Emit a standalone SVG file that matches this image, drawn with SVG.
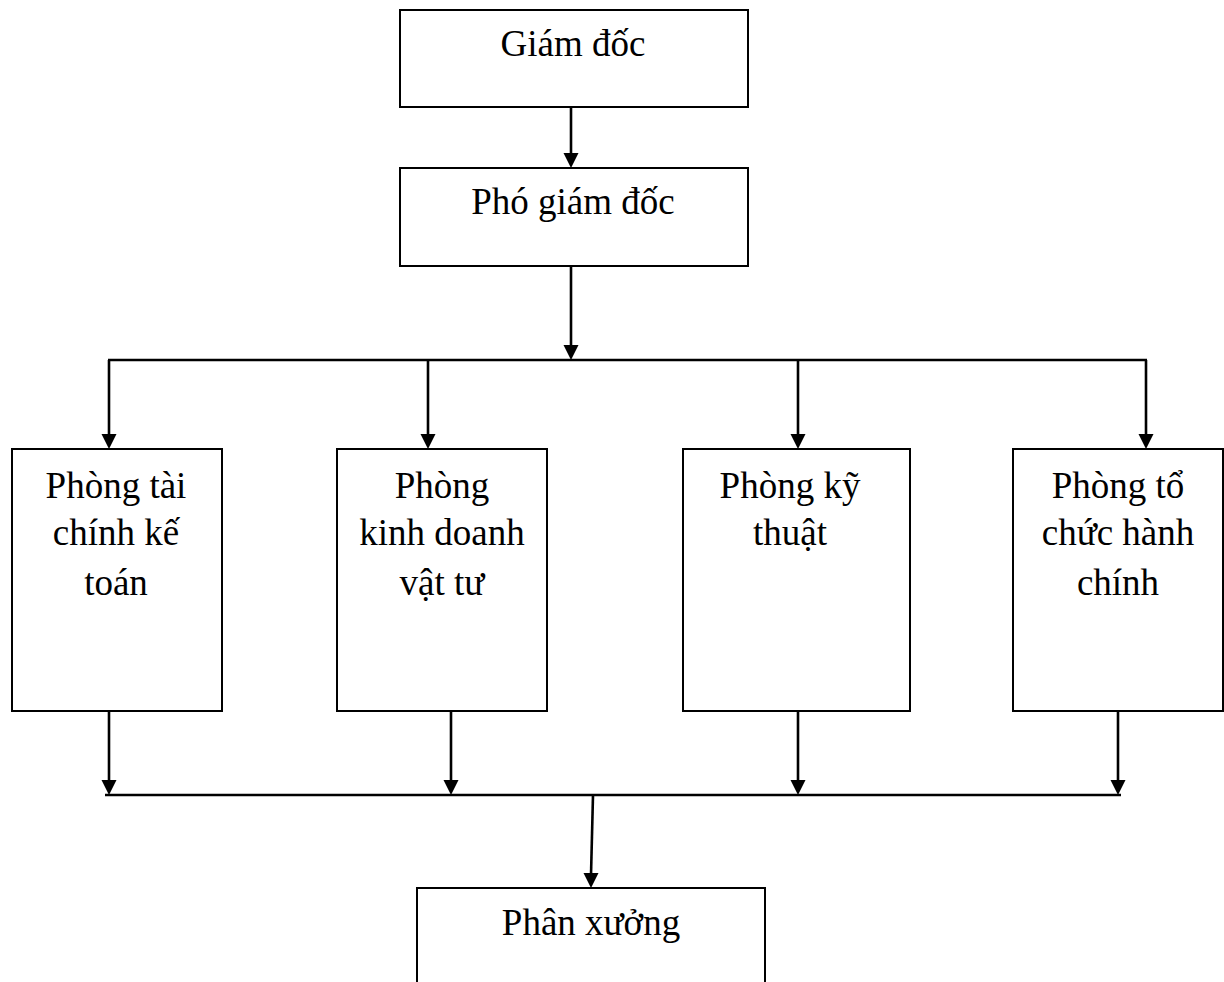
<svg xmlns="http://www.w3.org/2000/svg" width="1224" height="982" viewBox="0 0 1224 982">
<defs>
<style>
.box{fill:#fff;stroke:#000;stroke-width:2}
.t{font-family:"Liberation Serif","Times New Roman",serif;font-size:37px;fill:#000;text-anchor:middle}
.c{stroke:#000;stroke-width:2.6;fill:none}
.ah{fill:#000}
</style>
</defs>
<rect width="1224" height="982" fill="#fff"/>
<g id="connectors">
<line class="c" x1="571" y1="107" x2="571" y2="155"/>
<line class="c" x1="571" y1="266" x2="571" y2="347"/>
<line class="c" x1="108" y1="360" x2="1147" y2="360"/>
<line class="c" x1="109" y1="360" x2="109" y2="436"/>
<line class="c" x1="428" y1="360" x2="428" y2="436"/>
<line class="c" x1="798" y1="360" x2="798" y2="436"/>
<line class="c" x1="1146" y1="360" x2="1146" y2="436"/>
<line class="c" x1="109" y1="711" x2="109" y2="782"/>
<line class="c" x1="451" y1="711" x2="451" y2="782"/>
<line class="c" x1="798" y1="711" x2="798" y2="782"/>
<line class="c" x1="1118" y1="711" x2="1118" y2="782"/>
<line class="c" x1="105" y1="795" x2="1121" y2="795"/>
<line class="c" x1="593" y1="795" x2="591" y2="875"/>
<path class="ah" d="M563.5,153 L578.5,153 L571,168 Z"/>
<path class="ah" d="M563.5,345 L578.5,345 L571,360 Z"/>
<path class="ah" d="M101.5,434 L116.5,434 L109,449 Z"/>
<path class="ah" d="M420.5,434 L435.5,434 L428,449 Z"/>
<path class="ah" d="M790.5,434 L805.5,434 L798,449 Z"/>
<path class="ah" d="M1138.5,434 L1153.5,434 L1146,449 Z"/>
<path class="ah" d="M101.5,780 L116.5,780 L109,795 Z"/>
<path class="ah" d="M443.5,780 L458.5,780 L451,795 Z"/>
<path class="ah" d="M790.5,780 L805.5,780 L798,795 Z"/>
<path class="ah" d="M1110.5,780 L1125.5,780 L1118,795 Z"/>
<path class="ah" d="M583.5,873 L598.5,873 L591,888 Z"/>
</g>
<g id="giam-doc">
<rect class="box" x="400" y="10" width="348" height="97"/>
<text class="t" x="573" y="56">Giám đốc</text>
</g>
<g id="pho-giam-doc">
<rect class="box" x="400" y="168" width="348" height="98"/>
<text class="t" x="573" y="214">Phó giám đốc</text>
</g>
<g id="phong-tai-chinh">
<rect class="box" x="12" y="449" width="210" height="262"/>
<text class="t" x="116" y="498">Phòng tài</text>
<text class="t" x="116" y="545">chính kế</text>
<text class="t" x="116" y="595">toán</text>
</g>
<g id="phong-kinh-doanh">
<rect class="box" x="337" y="449" width="210" height="262"/>
<text class="t" x="442" y="498">Phòng</text>
<text class="t" x="442" y="545">kinh doanh</text>
<text class="t" x="442" y="595">vật tư</text>
</g>
<g id="phong-ky-thuat">
<rect class="box" x="683" y="449" width="227" height="262"/>
<text class="t" x="790" y="498">Phòng kỹ</text>
<text class="t" x="790" y="545">thuật</text>
</g>
<g id="phong-to-chuc">
<rect class="box" x="1013" y="449" width="210" height="262"/>
<text class="t" x="1118" y="498">Phòng tổ</text>
<text class="t" x="1118" y="545">chức hành</text>
<text class="t" x="1118" y="595">chính</text>
</g>
<g id="phan-xuong">
<rect class="box" x="417" y="888" width="348" height="110"/>
<text class="t" x="591" y="935">Phân xưởng</text>
</g>
</svg>
